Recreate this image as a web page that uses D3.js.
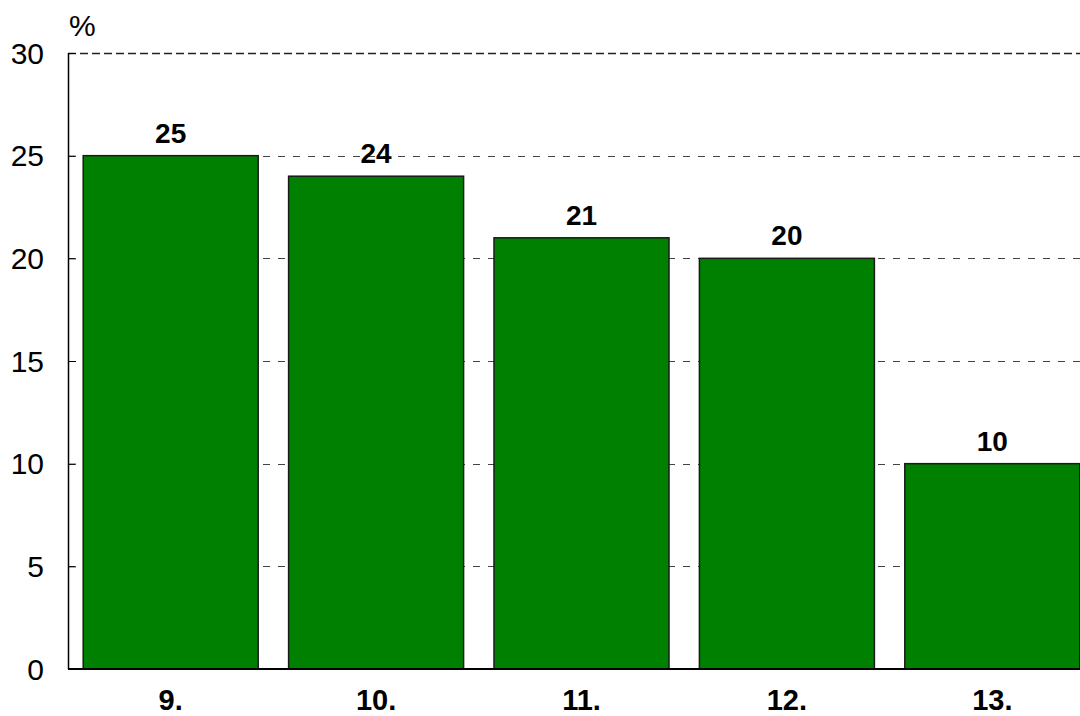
<!DOCTYPE html>
<html>
<head>
<meta charset="utf-8">
<script src="https://cdnjs.cloudflare.com/ajax/libs/d3/7.8.5/d3.min.js"></script>
<style>
  body { margin: 0; background: #fff; }
  text { font-family: "Liberation Sans", Arial, sans-serif; fill: #000; }
  .tick-label { font-size: 30px; }
  .bar-label { font-size: 28px; font-weight: bold; }
  .cat-label { font-size: 29px; font-weight: bold; }
</style>
</head>
<body>
<div id="plot"></div>
<script>
let categories = ['9.', '10.', '11.', '12.', '13.'];
let values = [25, 24, 21, 20, 10];
let yTicks = [0, 5, 10, 15, 20, 25, 30];
let unitLabel = '%';

let svgWidth = 1080;
let svgHeight = 716;

let margin = { top: 53, right: -15, bottom: 47, left: 68 };
let chartWidth = svgWidth - margin.left - margin.right;
let chartHeight = svgHeight - margin.top - margin.bottom;

let $svg = d3.select('#plot')
    .append('svg')
    .attr('width', svgWidth)
    .attr('height', svgHeight);

let $chart = $svg.append('g')
    .attr('transform', `translate(${margin.left}, ${margin.top})`);

let xScale = d3.scaleBand()
    .domain(categories)
    .range([0, chartWidth])
    .paddingInner(0.148)
    .paddingOuter(0.074);

let yScale = d3.scaleLinear()
    .domain([0, 30])
    .range([chartHeight, 0]);

// Dashed gridlines
$chart.selectAll('.grid')
    .data(yTicks.filter(d => d > 0))
    .enter()
    .append('line')
    .attr('class', 'grid')
    .attr('x1', 0)
    .attr('x2', chartWidth)
    .attr('y1', d => Math.round(yScale(d)) + 0.5)
    .attr('y2', d => Math.round(yScale(d)) + 0.5)
    .attr('stroke', d => d === 30 ? '#222' : '#444')
    .attr('stroke-width', d => d === 30 ? 1.5 : 1)
    .attr('stroke-dasharray', d => d === 30 ? '8,4' : '7,8');

// Bars
$chart.selectAll('.bar')
    .data(values)
    .enter()
    .append('rect')
    .attr('class', 'bar')
    .attr('x', (d, i) => xScale(categories[i]))
    .attr('y', d => yScale(d))
    .attr('width', xScale.bandwidth())
    .attr('height', d => chartHeight - yScale(d))
    .attr('fill', '#008000')
    .attr('stroke', '#1a1a1a')
    .attr('stroke-width', 1.5);

// Value labels
$chart.selectAll('.bar-label')
    .data(values)
    .enter()
    .append('text')
    .attr('class', 'bar-label')
    .attr('x', (d, i) => xScale(categories[i]) + xScale.bandwidth() / 2)
    .attr('y', d => yScale(d) - 13)
    .attr('text-anchor', 'middle')
    .text(d => d);

// Y axis ticks (inside)
let leftAxis = d3.axisRight(yScale)
    .tickValues(yTicks)
    .tickSize(8)
    .tickFormat('');

let $yAxis = $chart.append('g').call(leftAxis);
$yAxis.select('.domain').remove();
$yAxis.selectAll('.tick line').attr('stroke', '#000');

$chart.append('line')
    .attr('x1', 0.5).attr('x2', 0.5)
    .attr('y1', 0).attr('y2', chartHeight)
    .attr('stroke', '#000')
    .attr('stroke-width', 1.5);

$chart.selectAll('.tick-label')
    .data(yTicks)
    .enter()
    .append('text')
    .attr('class', 'tick-label')
    .attr('x', -24)
    .attr('y', d => yScale(d))
    .attr('dy', '0.36em')
    .attr('text-anchor', 'end')
    .text(d => d);

$chart.append('text')
    .attr('class', 'tick-label')
    .attr('x', 1)
    .attr('y', -17)
    .text(unitLabel);

// X axis
$chart.append('line')
    .attr('x1', 0).attr('x2', chartWidth)
    .attr('y1', chartHeight).attr('y2', chartHeight)
    .attr('stroke', '#000')
    .attr('stroke-width', 2);

$chart.selectAll('.cat-label')
    .data(categories)
    .enter()
    .append('text')
    .attr('class', 'cat-label')
    .attr('x', d => xScale(d) + xScale.bandwidth() / 2)
    .attr('y', chartHeight + 41)
    .attr('text-anchor', 'middle')
    .text(d => d);
</script>
</body>
</html>
